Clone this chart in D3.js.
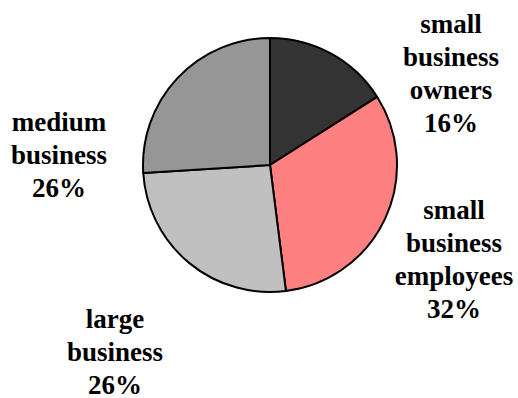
<!DOCTYPE html>
<html>
<head>
<meta charset="utf-8">
<script src="https://cdn.jsdelivr.net/npm/d3@7"></script>
</head>
<body style="margin:0">
<svg id="chart" width="518" height="398"></svg>
<script>
// data
const categories = ["small business owners", "small business employees", "large business", "medium business"];
const shares = [16, 32, 26, 26];
const labelLines = [
  ["small", "business", "owners"],
  ["small", "business", "employees"],
  ["large", "business"],
  ["medium", "business"]
];
const colors = ["#333333", "#ff8080", "#c0c0c0", "#969696"];

const cx = 270, cy = 165, r = 127,
    lineH = 33;

// where each label block is centered (x) and where its first baseline sits (y)
const labelAnchor = [
  {x: 451, y: 33},
  {x: 454, y: 219},
  {x: 115, y: 328},
  {x: 59,  y: 131}
];

const svg = d3.select("#chart");

const pie = d3.pie().sort(null).value(d => d);
const arc = d3.arc().innerRadius(0).outerRadius(r);

const g = svg.append("g").attr("transform", "translate(" + cx + "," + cy + ")");

g.selectAll("path.slice")
  .data(pie(shares))
  .join("path")
  .attr("class", "slice")
  .attr("d", arc)
  .attr("fill", (d, i) => colors[i])
  .attr("stroke", "#000")
  .attr("stroke-width", 2)
  .attr("stroke-linejoin", "round");

// labels, one text element per line
categories.forEach((c, i) => {
  const lines = labelLines[i].concat([shares[i] + "%"]);
  svg.selectAll("text.l" + i)
    .data(lines)
    .join("text")
    .attr("class", "l" + i)
    .attr("x", labelAnchor[i].x)
    .attr("y", (s, j) => labelAnchor[i].y + j * lineH)
    .attr("text-anchor", "middle")
    .style("font-family", "'Liberation Serif', 'Times New Roman', Tinos, serif")
    .style("font-weight", "bold")
    .style("font-size", "27px")
    .text(s => s);
});
</script>
</body>
</html>
